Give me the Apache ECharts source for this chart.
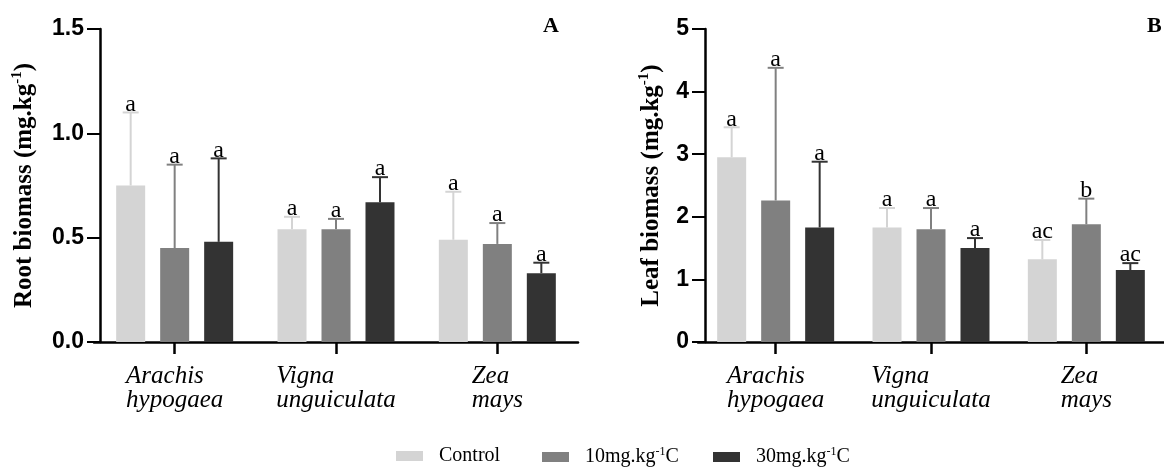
<!DOCTYPE html>
<html><head><meta charset="utf-8">
<script src="https://cdn.jsdelivr.net/npm/echarts@6/dist/echarts.min.js"></script>
<style>html,body{margin:0;padding:0;background:#fff}#c{width:1164px;height:469px}</style>
</head><body><div id="c"></div>
<script>
// ---- data ----
const categories = ['Arachis\nhypogaea', 'Vigna\nunguiculata', 'Zea\nmays'];
const seriesNames = ['Control', '10mg.kg-1C', '30mg.kg-1C'];

// Panel A: root biomass (means and upper error-bar ends)
const rootControl = [0.75, 0.54, 0.49];
const root10 = [0.45, 0.54, 0.47];
const root30 = [0.48, 0.67, 0.33];
const rootControlUpper = [1.10, 0.60, 0.72];
const root10Upper = [0.85, 0.59, 0.57];
const root30Upper = [0.88, 0.79, 0.38];
const rootControlLetters = ['a', 'a', 'a'];
const root10Letters = ['a', 'a', 'a'];
const root30Letters = ['a', 'a', 'a'];

// Panel B: leaf biomass
const leafControl = [2.95, 1.83, 1.32];
const leaf10 = [2.26, 1.80, 1.88];
const leaf30 = [1.83, 1.50, 1.15];
const leafControlUpper = [3.43, 2.14, 1.63];
const leaf10Upper = [4.38, 2.14, 2.29];
const leaf30Upper = [2.88, 1.66, 1.26];
const leafControlLetters = ['a', 'a', 'ac'];
const leaf10Letters = ['a', 'a', 'b'];
const leaf30Letters = ['a', 'a', 'ac'];

// ---- styling ----
const SERIF = '"Liberation Serif", "Times New Roman", serif';
const SANS = '"Liberation Sans", Arial, sans-serif';
const colors = ['#d4d4d4', '#808080', '#333333'];
const BAR_W = 29, GAP = 15, STEP = BAR_W + GAP, CAP = 8;

function makeErr(k, letters, color) {
  return function (params, api) {
    const c = api.value(0);
    const base = api.coord([c, api.value(1)]);
    const top = api.coord([c, api.value(2)]);
    const x = base[0] + (k - 1) * STEP;
    return {
      type: 'group',
      children: [
        { type: 'line', shape: { x1: x, y1: base[1], x2: x, y2: top[1] }, style: { stroke: color, lineWidth: 2 } },
        { type: 'line', shape: { x1: x - CAP, y1: top[1], x2: x + CAP, y2: top[1] }, style: { stroke: color, lineWidth: 2 } },
        { type: 'text', style: { text: letters[params.dataIndex], x: x, y: top[1] + 4, align: 'center', verticalAlign: 'bottom', textAlign: 'center', textVerticalAlign: 'bottom', font: '24px ' + SERIF, fill: '#000' } }
      ]
    };
  };
}

const catLabel = {
  interval: 0, margin: 22,
  formatter: v => v.split('\n').map(l => '{it|' + l + '}').join('\n'),
  rich: { it: { fontFamily: SERIF, fontStyle: 'italic', fontSize: 25, lineHeight: 24, align: 'left', color: '#000' } }
};
const axisLineStyle = { show: true, lineStyle: { color: '#000', width: 2.5 } };

function xAx(gi) {
  return {
    type: 'category', gridIndex: gi, data: categories,
    axisLine: axisLineStyle,
    axisTick: { show: true, alignWithLabel: true, length: 12, lineStyle: { color: '#000', width: 2.5 } },
    axisLabel: catLabel, splitLine: { show: false }
  };
}
function yAx(gi, max, interval, dec, name, gap, off) {
  return {
    type: 'value', gridIndex: gi, min: 0, max: max, interval: interval, offset: off,
    axisLine: axisLineStyle,
    axisTick: { show: true, length: 13, lineStyle: { color: '#000', width: 2 } },
    axisLabel: { margin: 16, formatter: v => v.toFixed(dec), fontFamily: SANS, fontWeight: 'bold', fontSize: 23, color: '#000' },
    splitLine: { show: false },
    name: name, nameLocation: 'middle', nameRotate: 90, nameGap: gap,
    nameTextStyle: {
      rich: {
        b: { fontFamily: SERIF, fontWeight: 'bold', fontSize: 25, lineHeight: 30, color: '#000' },
        s: { fontFamily: SERIF, fontWeight: 'bold', fontSize: 15, lineHeight: 15, verticalAlign: 'top', color: '#000' }
      }
    }
  };
}

const panels = [
  { means: [rootControl, root10, root30], upper: [rootControlUpper, root10Upper, root30Upper], letters: [rootControlLetters, root10Letters, root30Letters] },
  { means: [leafControl, leaf10, leaf30], upper: [leafControlUpper, leaf10Upper, leaf30Upper], letters: [leafControlLetters, leaf10Letters, leaf30Letters] }
];

const series = [];
panels.forEach((p, gi) => {
  p.means.forEach((m, k) => {
    series.push({
      type: 'bar', name: seriesNames[k], xAxisIndex: gi, yAxisIndex: gi,
      data: m, barWidth: BAR_W, barGap: (GAP / BAR_W * 100).toFixed(1) + '%',
      itemStyle: { color: colors[k] }, emphasis: { disabled: true }, z: 2
    });
  });
  p.means.forEach((m, k) => {
    series.push({
      type: 'custom', name: 'err' + gi + k, xAxisIndex: gi, yAxisIndex: gi,
      data: m.map((v, i) => [i, v, p.upper[k][i]]),
      renderItem: makeErr(k, p.letters[k], colors[k]), z: 3, silent: true
    });
  });
});

function legendFmt(n) {
  const m = n.match(/^(.*mg\.kg)(-1)(C)$/);
  if (m) return '{g|}{t|' + m[1] + '}{s|' + m[2] + '}{t|' + m[3] + '}';
  return '{g|}{t|' + n + '}';
}
const legRich = {
  g: { width: 11 },
  t: { fontFamily: SERIF, fontSize: 20, lineHeight: 22, color: '#000' },
  s: { fontFamily: SERIF, fontSize: 12, lineHeight: 12, verticalAlign: 'top', color: '#000' }
};
const legLefts = [396, 542, 713];
const legend = seriesNames.map((n, k) => ({
  data: [n], left: legLefts[k], top: 446, itemWidth: 27, itemHeight: 10, icon: 'rect',
  formatter: legendFmt, textStyle: { rich: legRich }, selectedMode: false, padding: 0
}));

const option = {
  backgroundColor: '#fff',
  animation: false,
  title: [
    { text: 'A', left: 538, top: 10, textStyle: { fontFamily: SERIF, fontWeight: 'bold', fontSize: 22, color: '#000' } },
    { text: 'B', left: 1142, top: 10, textStyle: { fontFamily: SERIF, fontWeight: 'bold', fontSize: 22, color: '#000' } }
  ],
  legend: legend,
  grid: [
    { left: 94, top: 29, width: 484, height: 313 },
    { left: 698, top: 29, width: 484, height: 313 }
  ],
  xAxis: [xAx(0), xAx(1)],
  yAxis: [
    yAx(0, 1.5, 0.5, 1, '{b|Root biomass (mg.kg}{s|-1}{b|)}', 60, -6),
    yAx(1, 5, 1, 0, '{b|Leaf biomass (mg.kg}{s|-1}{b|)}', 38, -7)
  ],
  series: series
};
const chart = echarts.init(document.getElementById('c'), null, { renderer: 'canvas' });
chart.setOption(option);
</script>
</body></html>
